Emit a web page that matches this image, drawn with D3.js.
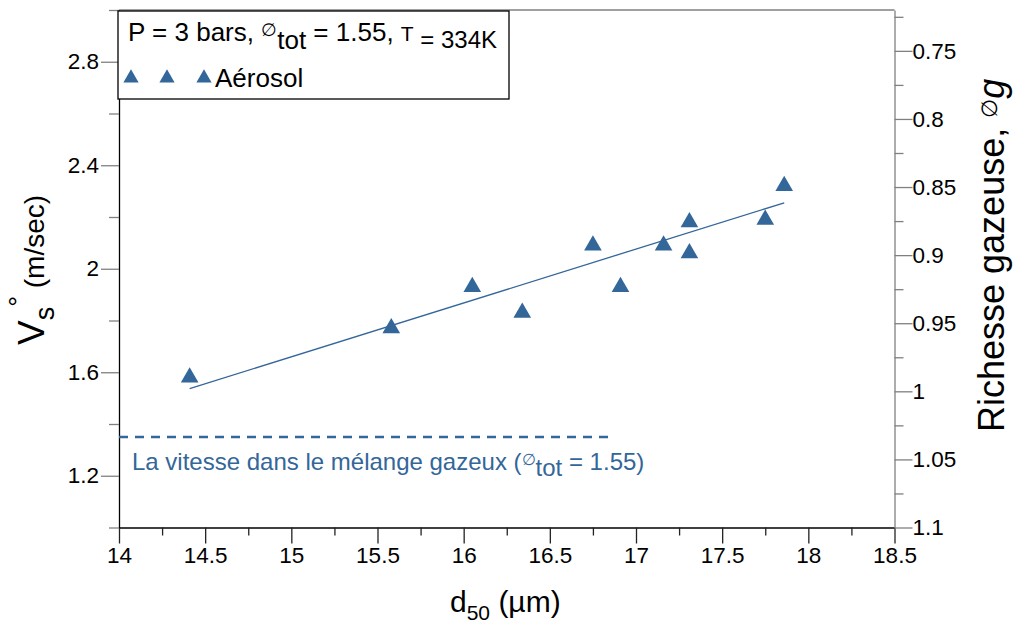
<!DOCTYPE html>
<html>
<head>
<meta charset="utf-8">
<script src="https://cdn.jsdelivr.net/npm/d3@7"></script>
<style>
body { margin: 0; background: #fff; }
text { font-family: "Liberation Sans", Arial, sans-serif; fill: #000; }
</style>
</head>
<body>
<svg id="chart" width="1018" height="626"></svg>
<script>
// Measured points (d50 in µm, laminar speed in m/s)
var d50 = [14.41, 15.58, 16.05, 16.34, 16.75, 16.91, 17.16, 17.31, 17.31, 17.75, 17.86];
var vs = [1.58, 1.77, 1.93, 1.83, 2.09, 1.93, 2.09, 2.18, 2.06, 2.19, 2.32];

// linear fit drawn through the points (end points)
var fitD50 = [14.41, 17.86];
var fitVs = [1.537, 2.255];

// speed in the pure gas mixture (dashed reference)
var refD50 = [14, 16.84];
var refVs = [1.35, 1.35];

var xTicks = [14, 14.5, 15, 15.5, 16, 16.5, 17, 17.5, 18, 18.5];
var xMinor = [14.25, 14.75, 15.25, 15.75, 16.25, 16.75, 17.25, 17.75, 18.25];
var yTicks = [1.2, 1.6, 2, 2.4, 2.8];
var yMinor = [1, 1.4, 1.8, 2.2, 2.6, 3];
var phiTicks = [0.75, 0.8, 0.85, 0.9, 0.95, 1, 1.05, 1.1];
var phiMinor = [0.725, 0.775, 0.825, 0.875, 0.925, 0.975, 1.025, 1.075];

var blue = "#336699";
var x0 = 119, x1 = 894.5, y0 = 10, y1 = 527.5;

var svg = d3.select("#chart");

var x = d3.scaleLinear().domain([14, 18.5]).range([x0, x1]);
var y = d3.scaleLinear().domain([1, 3]).range([y1, y0]);
var phi = d3.scaleLinear().domain([0.72, 1.1]).range([y0, y1]);

var fmt = d3.format("~g");

// top frame line
svg.append("line")
    .attr("x1", x0).attr("x2", x1)
    .attr("y1", y0).attr("y2", y0)
    .attr("stroke", "#808080").attr("stroke-width", 1.3);

function styleAxis(g, lineColor, tickColor) {
    g.select(".domain").attr("stroke", lineColor).attr("stroke-width", 1.3);
    g.selectAll(".tick line").attr("stroke", tickColor).attr("stroke-width", 1.3);
    g.selectAll(".tick text")
        .attr("font-size", 22.5)
        .attr("font-family", "Liberation Sans, Arial, sans-serif")
        .attr("fill", "#000");
}

// bottom axis
var gx = svg.append("g").attr("transform", "translate(0," + y1 + ")")
    .call(d3.axisBottom(x).tickValues(xTicks).tickFormat(fmt).tickSize(16).tickSizeOuter(0).tickPadding(4));
styleAxis(gx, "#000", "#222");
var gxm = svg.append("g").attr("transform", "translate(0," + y1 + ")")
    .call(d3.axisBottom(x).tickValues(xMinor).tickFormat("").tickSize(8).tickSizeOuter(0));
styleAxis(gxm, "none", "#222");

// left axis
var gy = svg.append("g").attr("transform", "translate(" + x0 + ",0)")
    .call(d3.axisLeft(y).tickValues(yTicks).tickFormat(fmt).tickSize(18).tickSizeOuter(0).tickPadding(2));
styleAxis(gy, "#000", "#808080");
var gym = svg.append("g").attr("transform", "translate(" + x0 + ",0)")
    .call(d3.axisLeft(y).tickValues(yMinor).tickFormat("").tickSize(10).tickSizeOuter(0));
styleAxis(gym, "none", "#808080");

// right axis (gas richness)
var gp = svg.append("g").attr("transform", "translate(" + x1 + ",0)")
    .call(d3.axisRight(phi).tickValues(phiTicks).tickFormat(fmt).tickSize(18).tickSizeOuter(0).tickPadding(0));
styleAxis(gp, "#808080", "#808080");
var gpm = svg.append("g").attr("transform", "translate(" + x1 + ",0)")
    .call(d3.axisRight(phi).tickValues(phiMinor).tickFormat("").tickSize(9).tickSizeOuter(0));
styleAxis(gpm, "none", "#808080");

// dashed reference line + its label
var line = d3.line()
    .x(function (d) { return x(d[0]); })
    .y(function (d) { return y(d[1]); });

svg.append("path")
    .datum(d3.zip(refD50, refVs))
    .attr("d", line)
    .attr("fill", "none")
    .attr("stroke", blue)
    .attr("stroke-width", 2.5)
    .attr("stroke-dasharray", "9,7");

var ref = svg.append("text")
    .attr("x", 132).attr("y", 470)
    .attr("font-size", 24)
    .style("fill", blue);
ref.append("tspan").text("La vitesse dans le mélange gazeux (");
ref.append("tspan").attr("font-size", 16).attr("dy", -5).text("∅");
ref.append("tspan").attr("dy", 11).text("tot");
ref.append("tspan").attr("dy", -6).text(" = 1.55)");

// fit line
svg.append("path")
    .datum(d3.zip(fitD50, fitVs))
    .attr("d", line)
    .attr("fill", "none")
    .attr("stroke", blue)
    .attr("stroke-width", 1.3);

// points
var tri = d3.symbol().type(d3.symbolTriangle).size(135);
svg.append("g")
    .selectAll("path")
    .data(d3.zip(d50, vs))
    .join("path")
    .attr("d", tri)
    .attr("transform", function (d) {
        return "translate(" + x(d[0]) + "," + y(d[1]) + ")";
    })
    .attr("fill", blue);

// legend
var lg = svg.append("g");
lg.append("rect")
    .attr("x", 118).attr("y", 11)
    .attr("width", 391).attr("height", 88)
    .attr("fill", "#fff")
    .attr("stroke", "#000")
    .attr("stroke-width", 1.3);
var t1 = lg.append("text").attr("x", 128).attr("y", 41).attr("font-size", 26);
t1.append("tspan").text("P = 3 bars, ");
t1.append("tspan").attr("font-size", 18).attr("dy", -5).text("∅");
t1.append("tspan").attr("dy", 13).text("tot");
t1.append("tspan").attr("dy", -8).text(" = 1.55, ");
t1.append("tspan").attr("font-size", 21).text("T");
t1.append("tspan").attr("font-size", 24).attr("dy", 7).text(" = 334K");

var lgTri = d3.symbol().type(d3.symbolTriangle).size(100);
lg.selectAll("path.key")
    .data([131, 167, 204])
    .join("path")
    .attr("class", "key")
    .attr("d", lgTri)
    .attr("transform", function (d) { return "translate(" + d + ",78)"; })
    .attr("fill", blue);
lg.append("text").attr("x", 215).attr("y", 87).attr("font-size", 26).text("Aérosol");

// axis titles
var xl = svg.append("text").attr("x", 450).attr("y", 612).attr("font-size", 30);
xl.append("tspan").text("d");
xl.append("tspan").attr("font-size", 21).attr("dy", 8).text("50");
xl.append("tspan").attr("dy", -8).text(" (µm)");

var yl = svg.append("text")
    .attr("transform", "translate(44,345) rotate(-90)")
    .attr("font-size", 37);
yl.append("tspan").text("V");
yl.append("tspan").attr("font-size", 27).attr("dy", 10).text("s");
yl.append("tspan").attr("font-size", 27).attr("dy", -26).text("°");
yl.append("tspan").attr("font-size", 28).attr("dy", 16).text(" (m/sec)");

var pl = svg.append("text")
    .attr("transform", "translate(1004,432) rotate(-90)")
    .attr("font-size", 36);
pl.append("tspan").text("Richesse gazeuse, ");
pl.append("tspan").attr("font-size", 22).attr("dy", -7).text("∅");
pl.append("tspan").attr("font-style", "italic").attr("dy", 7).text("g");
</script>
</body>
</html>
